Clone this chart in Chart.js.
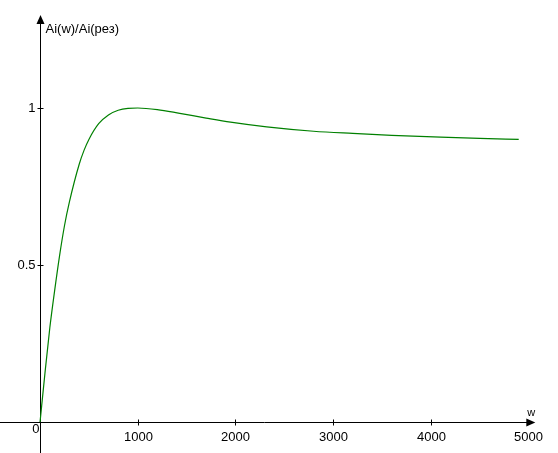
<!DOCTYPE html>
<html>
<head>
<meta charset="utf-8">
<script src="https://cdn.jsdelivr.net/npm/chart.js@4"></script>
<style>
  html, body { margin: 0; padding: 0; background: #fff; }
  #wrap { width: 558px; height: 453px; }
</style>
</head>
<body>
<div id="wrap"><canvas id="chart"></canvas></div>
<script>
// values
let wValues = [0, 50, 100, 150, 200, 250, 300, 400, 450, 500, 600, 700, 800, 900, 1000, 1200, 1430, 1700, 1950, 2320, 2800, 3200, 3600, 4100, 4500, 4900];
let ratioValues = [0, 0.155, 0.30, 0.42, 0.53, 0.625, 0.70, 0.82, 0.865, 0.90, 0.95, 0.978, 0.993, 0.999, 1.0, 0.995, 0.983, 0.968, 0.955, 0.940, 0.926, 0.919, 0.913, 0.907, 0.903, 0.900];
let xTicks = [1000, 2000, 3000, 4000, 5000];
let yTicks = [0.5, 1];
let yTickLabels = ['0.5', '1'];
let yTitle = 'Ai(w)/Ai(рез)';
let xTitle = 'w';

let points = wValues.map((w, i) => ({ x: w, y: ratioValues[i] }));

// draws the axes through the origin with arrows, like the original
const axesPlugin = {
    id: 'originAxes',
    beforeDatasetsDraw(chart) {
        let ctx = chart.ctx;
        let xs = chart.scales.x, ys = chart.scales.y;
        let x0 = Math.round(xs.getPixelForValue(0)) + 0.5;
        let y0 = Math.round(ys.getPixelForValue(0)) + 0.5;
        ctx.save();
        ctx.strokeStyle = '#000';
        ctx.fillStyle = '#000';
        ctx.lineWidth = 1;
        ctx.font = '13px "Liberation Sans", Arial, sans-serif';

        // x axis
        let xEnd = xs.getPixelForValue(5070);
        ctx.beginPath();
        ctx.moveTo(0, y0);
        ctx.lineTo(xEnd - 6, y0);
        ctx.stroke();
        ctx.beginPath();
        ctx.moveTo(xEnd, y0);
        ctx.lineTo(xEnd - 9, y0 - 4);
        ctx.lineTo(xEnd - 9, y0 + 4);
        ctx.closePath();
        ctx.fill();

        // y axis
        let yEnd = ys.getPixelForValue(1.296);
        ctx.beginPath();
        ctx.moveTo(x0, chart.height);
        ctx.lineTo(x0, yEnd + 6);
        ctx.stroke();
        ctx.beginPath();
        ctx.moveTo(x0, yEnd);
        ctx.lineTo(x0 - 4, yEnd + 9);
        ctx.lineTo(x0 + 4, yEnd + 9);
        ctx.closePath();
        ctx.fill();

        // x ticks
        ctx.textAlign = 'center';
        ctx.textBaseline = 'middle';
        xTicks.forEach(v => {
            let px = Math.round(xs.getPixelForValue(v)) + 0.5;
            if (v < 5000) {
                ctx.beginPath();
                ctx.moveTo(px, y0 - 3);
                ctx.lineTo(px, y0 + 3);
                ctx.stroke();
            }
            ctx.fillText(String(v), px, y0 + 15);
        });

        // y ticks
        ctx.textAlign = 'right';
        yTicks.forEach((v, i) => {
            let py = Math.round(ys.getPixelForValue(v)) + 0.5;
            ctx.beginPath();
            ctx.moveTo(x0 - 3, py);
            ctx.lineTo(x0 + 3, py);
            ctx.stroke();
            ctx.fillText(yTickLabels[i], x0 - 5, py);
        });

        // origin label
        ctx.fillText('0', x0 - 1, y0 + 7);

        // axis titles
        ctx.textAlign = 'left';
        ctx.fillText(yTitle, x0 + 5, yEnd + 14);
        ctx.font = '11px "Liberation Sans", Arial, sans-serif';
        ctx.textAlign = 'center';
        ctx.fillText(xTitle, xEnd - 4, y0 - 10);
        ctx.restore();
    }
};

let ctx = document.getElementById('chart').getContext('2d');
let chartInstance = new Chart(ctx, {
    type: 'scatter',
    data: {
        datasets: [{
            data: points,
            showLine: true,
            borderColor: '#008000',
            borderWidth: 1.2,
            pointRadius: 0,
            cubicInterpolationMode: 'monotone',
            fill: false
        }]
    },
    options: {
        responsive: true,
        maintainAspectRatio: false,
        animation: false,
        layout: { padding: 0 },
        plugins: {
            legend: { display: false },
            tooltip: { enabled: false }
        },
        scales: {
            x: { type: 'linear', min: -410, max: 5302, display: false },
            y: { type: 'linear', min: -0.0987, max: 1.344, display: false }
        }
    },
    plugins: [axesPlugin]
});
</script>
</body>
</html>
